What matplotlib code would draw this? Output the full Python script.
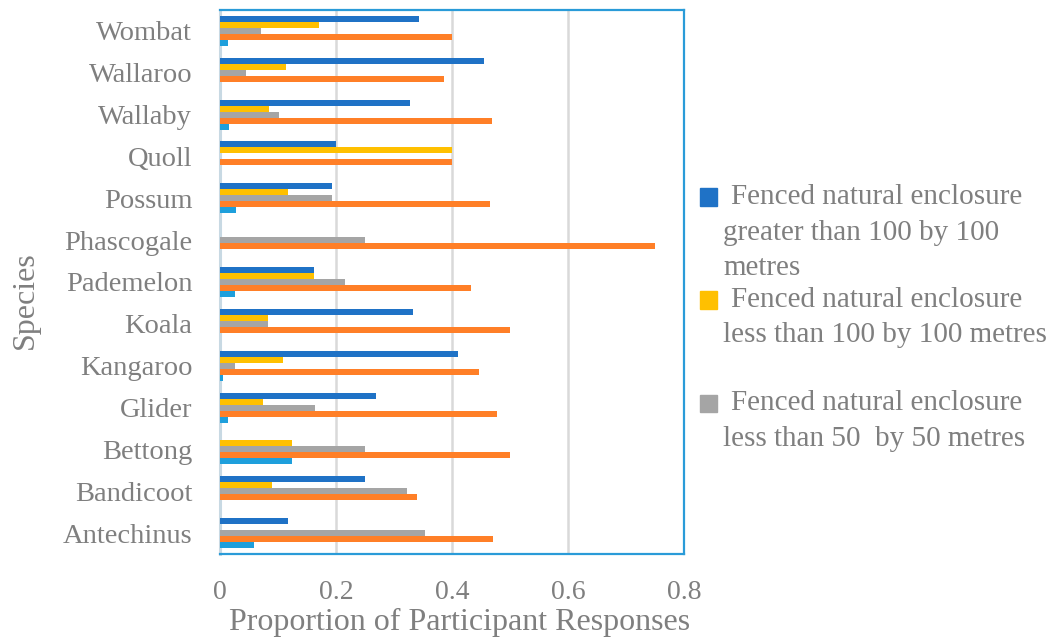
import numpy as np
import matplotlib
matplotlib.use("Agg")
import matplotlib.pyplot as plt
from matplotlib.patches import Rectangle

# DATA (top to bottom as in the chart)
species = ["Wombat", "Wallaroo", "Wallaby", "Quoll", "Possum", "Phascogale",
           "Pademelon", "Koala", "Kangaroo", "Glider", "Bettong", "Bandicoot",
           "Antechinus"]
large_enclosure = [0.343, 0.455, 0.328, 0.2, 0.194, 0.0, 0.162, 0.333, 0.41,
                   0.269, 0.0, 0.25, 0.117]
medium_enclosure = [0.171, 0.113, 0.085, 0.4, 0.117, 0.0, 0.162, 0.083, 0.109,
                    0.074, 0.125, 0.089, 0.0]
small_enclosure = [0.071, 0.045, 0.101, 0.0, 0.194, 0.25, 0.216, 0.083, 0.026,
                   0.164, 0.25, 0.322, 0.353]
series_four = [0.40, 0.387, 0.469, 0.40, 0.466, 0.75, 0.433, 0.5, 0.446,
               0.478, 0.5, 0.339, 0.471]
series_five = [0.013, 0.0, 0.015, 0.0, 0.028, 0.0, 0.026, 0.0, 0.006,
               0.014, 0.125, 0.0, 0.058]
legend_labels = ["Fenced natural enclosure\ngreater than 100 by 100\nmetres",
                 "Fenced natural enclosure\nless than 100 by 100 metres",
                 "Fenced natural enclosure\nless than 50  by 50 metres"]
xticks = [0, 0.2, 0.4, 0.6, 0.8]
xtick_labels = ["0", "0.2", "0.4", "0.6", "0.8"]

colours = ["#1F72C6", "#FFC000", "#A5A5A5", "#FF7F27", "#1E9FDC"]
text_grey = "#7F7F7F"
font = "Liberation Serif"

fig = plt.figure(figsize=(10.46, 6.39), dpi=100)
ax = fig.add_axes([0.2103, 0.133, 0.4436, 0.8514])

# bottom-up positions
y = np.arange(len(species))[::-1]
h = 0.143
all_series = [large_enclosure, medium_enclosure, small_enclosure, series_four, series_five]
offsets = [2 * h, h, 0, -h, -2 * h]
for vals, off, col in zip(all_series, offsets, colours):
    ax.barh(y + off, vals, height=h, color=col, edgecolor="none", zorder=3)

ax.set_ylim(-0.5, len(species) - 0.5)
ax.set_xlim(0, 0.8)
ax.set_yticks(y)
ax.set_yticklabels(species, family=font, fontsize=20.5, color=text_grey)
ax.set_xticks(xticks)
ax.set_xticklabels(xtick_labels, family=font, fontsize=20, color=text_grey)
ax.tick_params(axis="y", length=0, pad=20)
ax.tick_params(axis="x", length=0, pad=19)
ax.grid(axis="x", color="#D9D9D9", linewidth=1.8, zorder=0)
ax.set_axisbelow(True)

for side in ["top", "right", "bottom"]:
    ax.spines[side].set_color("#2A9BD8")
    ax.spines[side].set_linewidth(1.6)
ax.spines["left"].set_color("#C8D9E3")
ax.spines["left"].set_linewidth(2.2)

ax.set_xlabel("Proportion of Participant Responses", family=font, fontsize=23,
              color=text_grey, va="center")
ax.xaxis.set_label_coords((460 - 220) / 464, (554 - 622) / 544)
ax.set_ylabel("Species", family=font, fontsize=23, color=text_grey, va="center")
ax.yaxis.set_label_coords((25 - 220) / 464, (554 - 300) / 544)

# legend drawn by hand to match the wrapped text layout
W, H = 1046, 639
line_gap = 35.5
entry_tops = [197, 300, 403]
for lab, col, top in zip(legend_labels, colours[:3], entry_tops):
    fig.patches.append(Rectangle((700 / W, 1 - (top + 8.5) / H), 17 / W, 17 / H,
                                 transform=fig.transFigure, color=col))
    for i, line in enumerate(lab.split("\n")):
        xpos = 731 if i == 0 else 723
        fig.text(xpos / W, 1 - (top + i * line_gap) / H, line, family=font,
                 fontsize=21, color=text_grey, va="center", ha="left")

fig.savefig("out.png", dpi=100)
